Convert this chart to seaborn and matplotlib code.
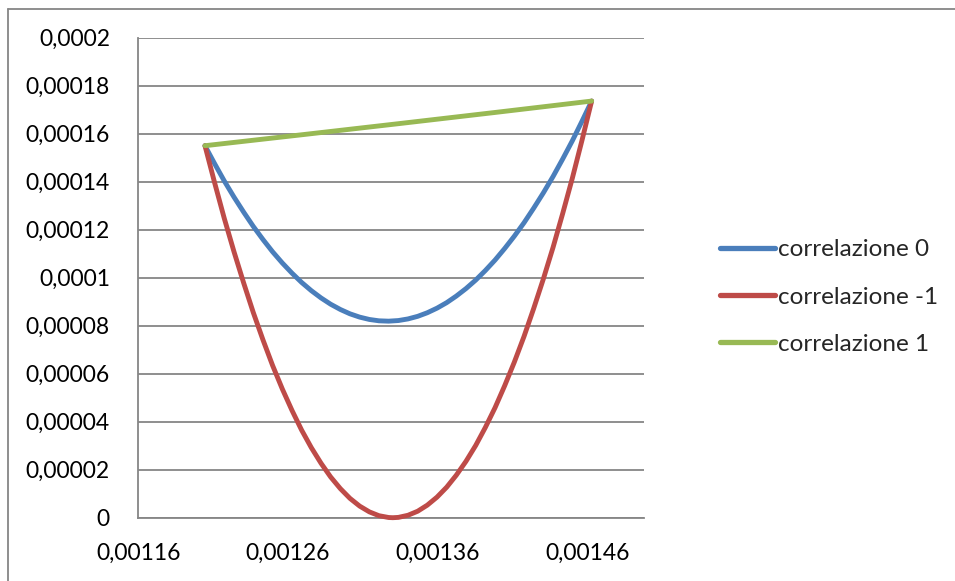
import matplotlib
matplotlib.use("Agg")
import matplotlib.pyplot as plt
from matplotlib.lines import Line2D
import pandas as pd
import seaborn as sns

# Portfolio expected return (x) vs variance (y) for two assets,
# under three correlation assumptions. Variances are in units of 1e-6.
ret_corr0 = [0.0012045, 0.0012110, 0.0012174, 0.0012239, 0.0012304, 0.0012368,
             0.0012433, 0.0012497, 0.0012562, 0.0012627, 0.0012691, 0.0012756,
             0.0012821, 0.0012885, 0.0012950, 0.0013014, 0.0013079, 0.0013144,
             0.0013208, 0.0013273, 0.0013338, 0.0013402, 0.0013467, 0.0013531,
             0.0013596, 0.0013661, 0.0013725, 0.0013790, 0.0013855, 0.0013919,
             0.0013984, 0.0014048, 0.0014113, 0.0014178, 0.0014242, 0.0014307,
             0.0014372, 0.0014436, 0.0014501, 0.0014565, 0.0014630]
var_corr0 = [155.00, 147.46, 140.32, 133.60, 127.29, 121.38, 115.89, 110.81,
             106.14, 101.88, 98.04, 94.60, 91.57, 88.96, 86.76, 84.96, 83.58,
             82.60, 82.04, 81.89, 82.15, 82.82, 83.90, 85.39, 87.30, 89.61,
             92.34, 95.47, 99.01, 102.97, 107.34, 112.12, 117.30, 122.90,
             128.92, 135.33, 142.17, 149.41, 157.06, 165.13, 173.60]

ret_corr_m1 = [0.0012045, 0.0012110, 0.0012174, 0.0012239, 0.0012304, 0.0012368,
               0.0012433, 0.0012497, 0.0012562, 0.0012627, 0.0012691, 0.0012756,
               0.0012821, 0.0012885, 0.0012950, 0.0013014, 0.0013079, 0.0013144,
               0.0013208, 0.0013273, 0.0013301, 0.0013338, 0.0013402, 0.0013467,
               0.0013531, 0.0013596, 0.0013661, 0.0013725, 0.0013790, 0.0013855,
               0.0013919, 0.0013984, 0.0014048, 0.0014113, 0.0014178, 0.0014242,
               0.0014307, 0.0014372, 0.0014436, 0.0014501, 0.0014565, 0.0014630]
var_corr_m1 = [155.00, 139.46, 124.74, 110.84, 97.76, 85.50, 74.06, 63.45,
               53.65, 44.68, 36.52, 29.19, 22.68, 16.99, 12.12, 8.07, 4.84,
               2.43, 0.84, 0.08, 0.00, 0.13, 1.01, 2.70, 5.22, 8.56, 12.72,
               17.70, 23.50, 30.12, 37.56, 45.82, 54.91, 64.81, 75.54, 87.08,
               99.45, 112.64, 126.65, 141.48, 157.13, 173.60]

ret_corr1 = [0.0012045, 0.0012691, 0.0013338, 0.0013984, 0.0014630]
var_corr1 = [155.00, 159.55, 164.17, 168.85, 173.60]

series_names = ["correlazione 0", "correlazione -1", "correlazione 1"]
series_colors = ["#4A7EBB", "#BE4B48", "#98B954"]

x_ticks = [0.00116, 0.00126, 0.00136, 0.00146]
x_tick_labels = ["0,00116", "0,00126", "0,00136", "0,00146"]
y_ticks = [0, 0.00002, 0.00004, 0.00006, 0.00008, 0.0001,
           0.00012, 0.00014, 0.00016, 0.00018, 0.0002]
y_tick_labels = ["0", "0,00002", "0,00004", "0,00006", "0,00008", "0,0001",
                 "0,00012", "0,00014", "0,00016", "0,00018", "0,0002"]

frames = []
for name, xs, ys in zip(series_names,
                        [ret_corr0, ret_corr_m1, ret_corr1],
                        [var_corr0, var_corr_m1, var_corr1]):
    frames.append(pd.DataFrame({"rendimento": xs,
                                "varianza": [v * 1e-6 for v in ys],
                                "serie": name}))
data = pd.concat(frames, ignore_index=True)

sns.set_style("white")
plt.rcParams["font.family"] = ["Lato", "DejaVu Sans"]

W, H = 955, 581
fig = plt.figure(figsize=(W / 100, H / 100), dpi=100)
ax = fig.add_axes([138.4 / W, (H - 517.7) / H, (644 - 138.4) / W, 480 / H])

sns.lineplot(data=data, x="rendimento", y="varianza", hue="serie",
             hue_order=series_names,
             palette=dict(zip(series_names, series_colors)),
             estimator=None, sort=False, linewidth=3.5, ax=ax,
             solid_capstyle="round", solid_joinstyle="round")
for line in ax.get_lines():
    line.set_clip_on(False)
    line.set_zorder(3)

ax.set_xlim(0.00116, 0.001498)
ax.set_ylim(0, 0.0002)
ax.set_xticks(x_ticks)
ax.set_xticklabels(x_tick_labels)
ax.set_yticks(y_ticks)
ax.set_yticklabels(y_tick_labels)
ax.set_xlabel("")
ax.set_ylabel("")

grid_color = "#868686"
ax.yaxis.grid(True, color=grid_color, linewidth=1.3)
ax.xaxis.grid(False)
ax.set_axisbelow(True)
for side in ["top", "right"]:
    ax.spines[side].set_visible(False)
for side in ["left", "bottom"]:
    ax.spines[side].set_color(grid_color)
    ax.spines[side].set_linewidth(1.3)
    ax.spines[side].set_zorder(2)
ax.tick_params(axis="both", which="both", direction="out", length=6,
               width=1.2, color=grid_color, labelsize=16.5, labelcolor="black")
ax.tick_params(axis="y", pad=14.5)
ax.tick_params(axis="x", pad=12)

handles = [Line2D([0], [0], color=c, linewidth=3.8, solid_capstyle="round")
           for c in series_colors]
ax.legend(handles, series_names, loc="center left",
          bbox_to_anchor=(720 / W, 1 - 297 / H), bbox_transform=fig.transFigure,
          frameon=False, fontsize=17.5, handlelength=2.26, handletextpad=0.12,
          labelspacing=1.08, borderaxespad=0, borderpad=0)

# chart-area border (left and top edges)
fig.add_artist(Line2D([7.5 / W, 7.5 / W], [0, 1 - 8.7 / H],
                      transform=fig.transFigure, color="#868686", linewidth=1.3))
fig.add_artist(Line2D([7.5 / W, 1], [1 - 8.7 / H, 1 - 8.7 / H],
                      transform=fig.transFigure, color="#868686", linewidth=1.3))

fig.savefig("out.png", dpi=100, facecolor="white")
